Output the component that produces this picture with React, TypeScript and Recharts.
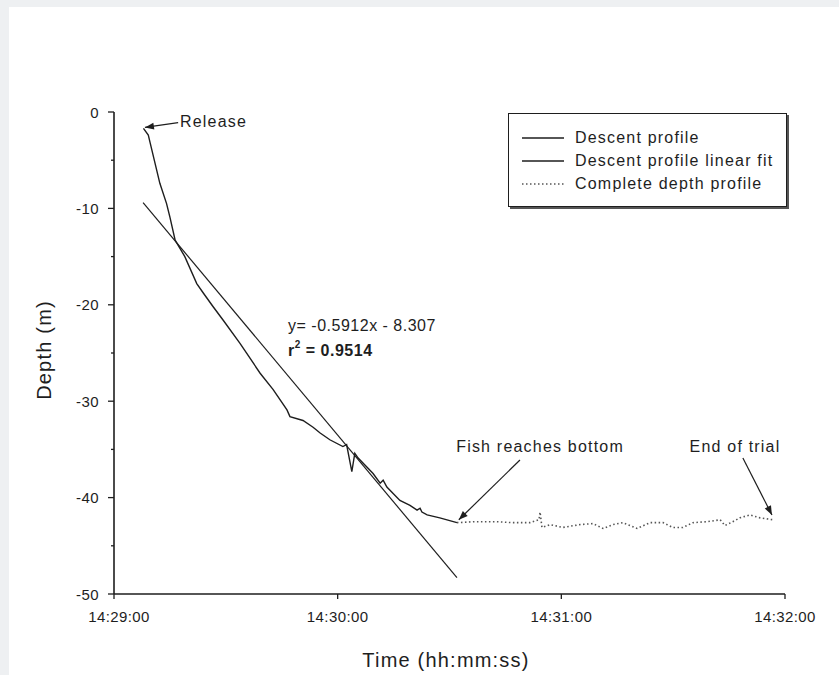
import React from 'react';
import { LineChart, Line, XAxis, YAxis, ReferenceLine, ReferenceDot, Legend } from 'recharts';

const FONT = '"Liberation Sans", Arial, sans-serif';
const INK = '#1e1e1e';

// time in seconds after 14:29:00, depth in metres
const descentTime = [7.9, 9.2, 9.7, 11.0, 12.3, 14.1, 15.0, 16.4, 19.0, 22.2, 24.0, 26.6, 29.3, 33.8, 39.2, 42.7, 46.4, 47.2, 50.7, 53.4, 55.3, 57.9, 61.4, 62.4, 63.8, 64.6, 65.5, 69.5, 71.4, 72.2, 73.2, 76.7, 79.4, 81.3, 82.1, 82.6, 84.0, 87.4, 92.0];
const descentDepth = [-1.7, -2.4, -3.2, -5.3, -7.4, -9.5, -10.9, -13.3, -15.0, -17.8, -18.8, -20.2, -21.6, -24.0, -27.1, -28.8, -30.9, -31.6, -32.0, -32.7, -33.3, -34.0, -34.7, -34.5, -37.3, -35.4, -35.9, -37.5, -38.5, -38.2, -38.9, -40.3, -40.8, -41.3, -41.1, -41.5, -41.8, -42.1, -42.6];

const fitTime = [7.8, 92.0];
const fitDepth = [-9.4, -48.3];

const completeTime = [92.0, 96.3, 102.7, 107.0, 111.6, 114.0, 114.3, 114.8, 117.0, 120.4, 125.0, 128.5, 131.2, 133.9, 136.5, 140.3, 143.8, 147.3, 149.9, 152.6, 155.3, 159.1, 162.6, 163.9, 166.0, 167.9, 170.6, 173.3, 176.8];
const completeDepth = [-42.6, -42.5, -42.5, -42.6, -42.6, -42.3, -41.5, -43.1, -42.8, -43.1, -42.8, -42.7, -43.2, -42.8, -42.6, -43.2, -42.6, -42.6, -43.1, -43.1, -42.6, -42.5, -42.3, -42.9, -42.5, -42.1, -41.8, -42.1, -42.3];

const xTicks = [0, 60, 120, 180];
const xTickLabels = ['14:29:00', '14:30:00', '14:31:00', '14:32:00'];
const yTicks = [0, -5, -10, -15, -20, -25, -30, -35, -40, -45, -50];

const legendNames = ['Descent profile', 'Descent profile linear fit', 'Complete depth profile'];

const toPoints = (ts: number[], ds: number[]) => ts.map((t, i) => ({ t, d: ds[i] }));
const descentData = toPoints(descentTime, descentDepth);
const fitData = toPoints(fitTime, fitDepth);
const completeData = toPoints(completeTime, completeDepth);

const textStyle = { fontFamily: FONT, fill: INK };

const YTick = (props: any) => {
  const { x, y, payload } = props;
  const major = payload.value % 10 === 0;
  return (
    <g>
      <line x1={x - (major ? 6 : 3)} x2={x} y1={y} y2={y} stroke={INK} strokeWidth={1.3} />
      {major && (
        <text x={x - 15} y={y} textAnchor="end" dominantBaseline="central" fontSize={15} letterSpacing={0.4} {...textStyle}>
          {payload.value}
        </text>
      )}
    </g>
  );
};

const XTick = (props: any) => {
  const { x, y, payload } = props;
  const i = xTicks.indexOf(payload.value);
  return (
    <text x={x + (i === 0 ? 5 : 0)} y={y} dy="0.71em" textAnchor="middle" fontSize={15} letterSpacing={0.4} {...textStyle}>
      {xTickLabels[i]}
    </text>
  );
};

const Arrow = (props: any) => {
  const { x1, y1, x2, y2 } = props;
  if ([x1, y1, x2, y2].some((v) => typeof v !== 'number' || isNaN(v))) return null;
  const ang = Math.atan2(y2 - y1, x2 - x1);
  const L = 9, W = 3.5;
  const bx = x2 - L * Math.cos(ang), by = y2 - L * Math.sin(ang);
  const px = -Math.sin(ang) * W, py = Math.cos(ang) * W;
  return (
    <g>
      <line x1={x1} y1={y1} x2={x2} y2={y2} stroke={INK} strokeWidth={1.2} />
      <polygon points={`${x2},${y2} ${bx + px},${by + py} ${bx - px},${by - py}`} fill={INK} />
    </g>
  );
};

const labelShape = (text: string, anchor: string, spacing = 1.2, bold = false, sup = false) => (p: any) => {
  const { cx, cy } = p;
  if (typeof cx !== 'number' || isNaN(cx)) return null;
  return (
    <text x={cx} y={cy} textAnchor={anchor} dominantBaseline="central" fontSize={16} letterSpacing={spacing} fontWeight={bold ? 'bold' : 'normal'} {...textStyle}>
      {sup ? (
        <>
          <tspan>r</tspan>
          <tspan dy={-6} fontSize={10}>2</tspan>
          <tspan dy={6}>{text}</tspan>
        </>
      ) : (
        text
      )}
    </text>
  );
};

const LegendBox = () => (
  <div
    style={{
      width: 279,
      height: 94,
      border: `1px solid ${INK}`,
      boxShadow: '2px 2px 0 #555',
      background: '#fff',
      fontFamily: FONT,
      fontSize: 16,
      letterSpacing: 1.2,
      color: INK,
      boxSizing: 'border-box',
      paddingTop: 12,
    }}
  >
    {legendNames.map((n, i) => (
      <div key={n} style={{ display: 'flex', alignItems: 'center', height: 23, whiteSpace: 'nowrap' }}>
        <svg width={66} height={10} style={{ flex: 'none' }}>
          <line
            x1={13}
            x2={55}
            y1={5}
            y2={5}
            stroke={i === 2 ? '#555' : INK}
            strokeWidth={i === 2 ? 1.6 : 1.3}
            strokeDasharray={i === 2 ? '1.5 2.5' : undefined}
          />
        </svg>
        <span>{n}</span>
      </div>
    ))}
  </div>
);

export default function App() {
  return (
    <div style={{ position: 'fixed', left: 0, top: 0, width: 839, height: 675, background: '#eef0f2' }}>
      <div style={{ position: 'absolute', left: 9, top: 7, right: 0, bottom: 0, background: '#fff' }} />
      <div style={{ position: 'absolute', left: 0, top: 0 }}>
        <LineChart width={839} height={675} margin={{ top: 112, right: 54, bottom: 51, left: 54 }}>
          <XAxis
            dataKey="t"
            type="number"
            domain={[0, 180]}
            ticks={xTicks}
            interval={0}
            axisLine={{ stroke: INK, strokeWidth: 1.6 }}
            tickLine={{ stroke: INK, strokeWidth: 1.3 }}
            tickSize={5}
            tickMargin={12}
            height={30}
            tick={<XTick />}
            allowDataOverflow
          />
          <YAxis
            dataKey="d"
            type="number"
            domain={[-50, 0]}
            ticks={yTicks}
            interval={0}
            width={60}
            axisLine={{ stroke: INK, strokeWidth: 1.6 }}
            tickLine={false}
            tickSize={0}
            tickMargin={0}
            tick={<YTick />}
            allowDataOverflow
          />
          <Line data={fitData} dataKey="d" stroke={INK} strokeWidth={1.2} dot={false} isAnimationActive={false} legendType="none" />
          <Line data={completeData} dataKey="d" stroke="#555" strokeWidth={1.6} strokeDasharray="1.5 2.5" dot={false} isAnimationActive={false} legendType="none" />
          <Line data={descentData} dataKey="d" stroke={INK} strokeWidth={1.4} dot={false} isAnimationActive={false} legendType="none" />

          <ReferenceLine segment={[{ x: 17.2, y: -1.1 }, { x: 8.3, y: -1.6 }]} shape={<Arrow />} ifOverflow="visible" />
          <ReferenceLine segment={[{ x: 108.9, y: -36.1 }, { x: 92.5, y: -42.3 }]} shape={<Arrow />} ifOverflow="visible" />
          <ReferenceLine segment={[{ x: 168.7, y: -35.9 }, { x: 176.5, y: -41.8 }]} shape={<Arrow />} ifOverflow="visible" />

          <ReferenceDot x={17.7} y={-1.0} r={0} shape={labelShape('Release', 'start')} ifOverflow="visible" />
          <ReferenceDot x={114.3} y={-34.7} r={0} shape={labelShape('Fish reaches bottom', 'middle')} ifOverflow="visible" />
          <ReferenceDot x={166.6} y={-34.7} r={0} shape={labelShape('End of trial', 'middle')} ifOverflow="visible" />
          <ReferenceDot x={46.7} y={-22.1} r={0} shape={labelShape('y= -0.5912x - 8.307', 'start', 0.5)} ifOverflow="visible" />
          <ReferenceDot x={46.7} y={-24.7} r={0} shape={labelShape(' = 0.9514', 'start', 0.5, true, true)} ifOverflow="visible" />

          <Legend
            layout="vertical"
            align="center"
            verticalAlign="middle"
            content={() => <LegendBox />}
            wrapperStyle={{ position: 'absolute', left: 508, top: 113, width: 'auto', height: 'auto' }}
          />

          <text x={44} y={350} transform="rotate(-90 44 350)" textAnchor="middle" dominantBaseline="central" fontSize={20} letterSpacing={1.2} {...textStyle}>
            Depth (m)
          </text>
          <text x={446} y={660} textAnchor="middle" dominantBaseline="central" fontSize={20} letterSpacing={1.2} {...textStyle}>
            Time (hh:mm:ss)
          </text>
        </LineChart>
      </div>
    </div>
  );
}
